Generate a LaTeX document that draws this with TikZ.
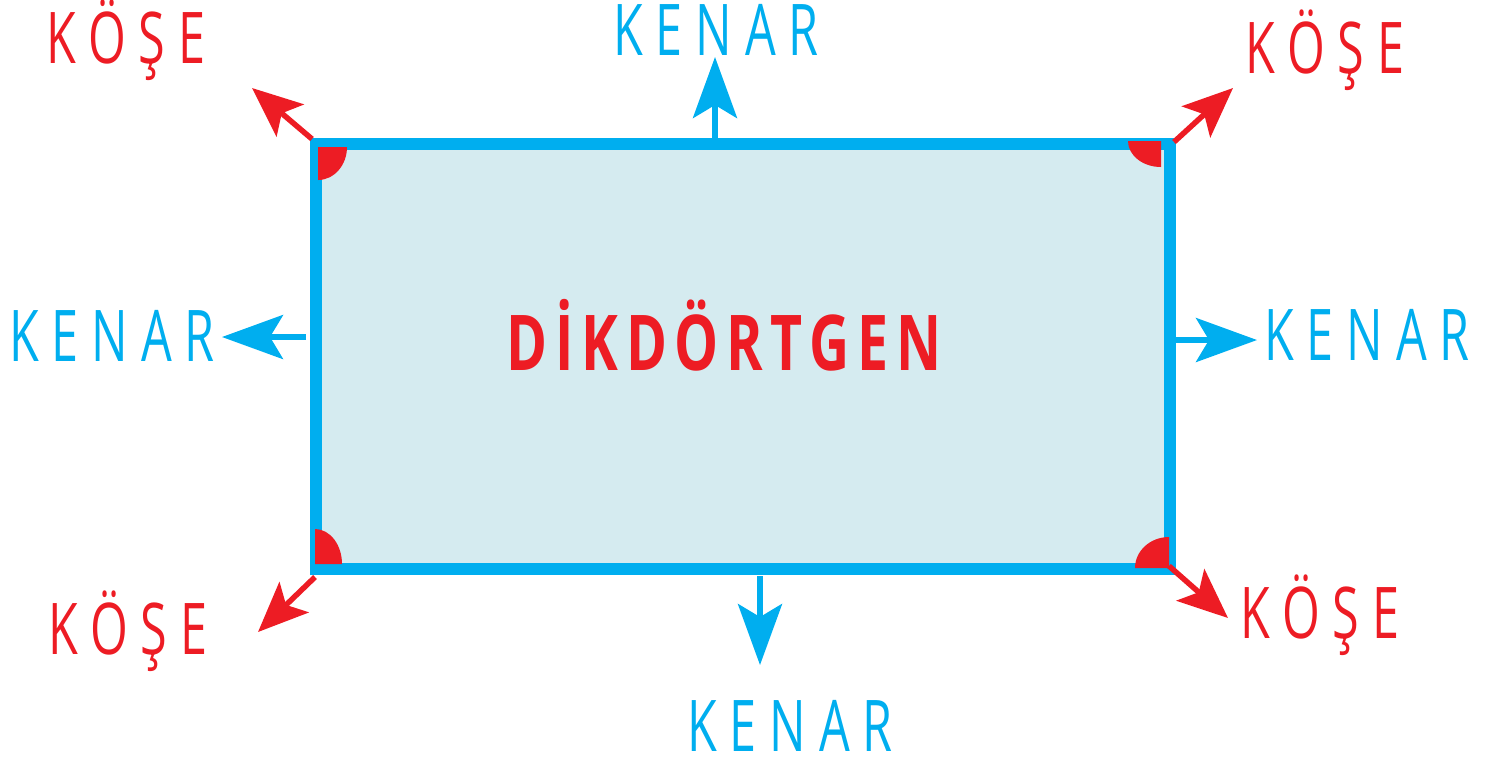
\documentclass[tikz,border=0pt]{standalone}
\usepackage{fontspec}
\usetikzlibrary{arrows.meta}
\newfontfamily\etiketfont[FakeStretch=0.68, LetterSpace=18]{Open Sans}
\newfontfamily\baslikfont[FakeStretch=0.72, LetterSpace=10]{Open Sans}
\definecolor{kenarmavi}{HTML}{00AEEF}
\definecolor{kosekirmizi}{HTML}{ED1C24}
\definecolor{icmavi}{HTML}{D5EBF0}
\tikzset{
  % basis voor alle opschriften
  etiket/.style={anchor=base, inner sep=0pt, text depth=0pt,
    font=\etiketfont\fontsize{20.3pt}{24pt}\selectfont},
  kose/.style={etiket, text=kosekirmizi},
  kenar/.style={etiket, text=kenarmavi},
  % pijlen vanaf de rechthoek
  kenarok/.style={draw=kenarmavi, line width=0.55mm,
    -{Stealth[length=6.1mm, width=4.4mm, inset=1.3mm]}},
  koseok/.style={draw=kosekirmizi, line width=0.55mm,
    -{Stealth[length=5mm, width=4.2mm, inset=1.1mm]}},
  % de kwartcirkels in de hoeken
  aci/.style={fill=kosekirmizi}
}
\begin{document}
\begin{tikzpicture}[x=0.1mm, y=-0.1mm]
  \useasboundingbox (0,0) rectangle (1494,763);

  % --- de rechthoek ---
  \coordinate (sol ust) at (316,144);
  \coordinate (sag alt) at (1170,569);
  \fill[icmavi] (sol ust) rectangle (sag alt);
  \draw[kenarmavi, line width=1.2mm] (sol ust) rectangle (sag alt);

  % hoeken
  \fill[aci] (318,147) -- ++(29,0) arc[start angle=0, end angle=90, x radius=29, y radius=33] -- cycle;
  \fill[aci] (1161,141) -- ++(-33,0) arc[start angle=180, end angle=90, x radius=33, y radius=26] -- cycle;
  \fill[aci] (315,564) -- ++(27,0) arc[start angle=0, end angle=-90, x radius=27, y radius=35] -- cycle;
  \fill[aci] (1169,568) -- ++(-34,0) arc[start angle=180, end angle=270, x radius=34, y radius=31] -- cycle;

  \node (baslik) [anchor=base, inner sep=0pt, text=kosekirmizi,
    font=\baslikfont\bfseries\fontsize{21.9pt}{26pt}\selectfont] at (724,370) {DİKDÖRTGEN};

  % --- opschriften ---
  \node (kose sol ust) [kose] at (126,63)   {KÖŞE};
  \node (kose sag ust) [kose] at (1325,73)  {KÖŞE};
  \node (kose sol alt) [kose] at (128,654)  {KÖŞE};
  \node (kose sag alt) [kose] at (1320,638) {KÖŞE};
  \node (kenar ust) [kenar] at (716,55)   {KENAR};
  \node (kenar sol) [kenar] at (112,361)  {KENAR};
  \node (kenar sag) [kenar] at (1367,360) {KENAR};
  \node (kenar alt) [kenar] at (790,751)  {KENAR};

  % --- pijlen ---
  \coordinate (u1) at (312,139);  \coordinate (p1) at (252,88);
  \coordinate (u2) at (1174,142); \coordinate (p2) at (1233,88);
  \coordinate (u3) at (315,577);  \coordinate (p3) at (258,632);
  \coordinate (u4) at (1169,566); \coordinate (p4) at (1228,618);
  \draw[koseok] (u1) -- (p1);
  \draw[koseok] (u2) -- (p2);
  \draw[koseok] (u3) -- (p3);
  \draw[koseok] (u4) -- (p4);

  \coordinate (k1) at (715,138);  \coordinate (q1) at (715,57);
  \coordinate (k2) at (306,337);  \coordinate (q2) at (222,337);
  \coordinate (k3) at (1176,340); \coordinate (q3) at (1257,340);
  \coordinate (k4) at (760,576);  \coordinate (q4) at (760,665);
  \draw[kenarok] (k1) -- (q1);
  \draw[kenarok] (k2) -- (q2);
  \draw[kenarok] (k3) -- (q3);
  \draw[kenarok] (k4) -- (q4);
\end{tikzpicture}
\end{document}
